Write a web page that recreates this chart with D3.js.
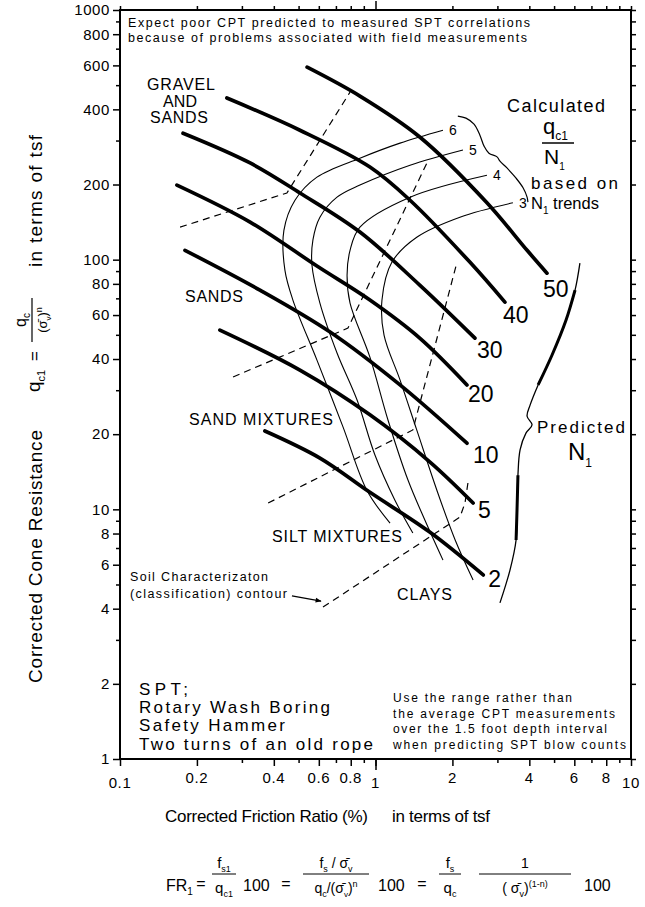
<!DOCTYPE html>
<html><head><meta charset="utf-8">
<script src="https://cdn.jsdelivr.net/npm/d3@7"></script>
<style>
body{margin:0;background:#fff}
svg{display:block}
text{font-family:"Liberation Sans",Arial,Helvetica,sans-serif;fill:#000}
</style>
</head><body>
<svg id="c" width="645" height="907"></svg>
<script>
// ---------------- DATA ----------------
const xTickValues = [0.1,0.2,0.4,0.6,0.8,1,2,4,6,8,10];
const xTickLabels = ["0.1","0.2","0.4","0.6","0.8","1","2","4","6","8","10"];
const yTickValues = [1,2,4,6,8,10,20,40,60,80,100,200,400,600,800,1000];
const yTickLabels = ["1","2","4","6","8","10","20","40","60","80","100","200","400","600","800","1000"];

// Predicted N1 contours  [friction ratio %, qc1 tsf]
const n1Levels = ["50","40","30","20","10","5","2"];
const n1_50 = [[0.54,590],[0.869,452],[1.49,310],[2.73,169],[3.92,109],[4.69,88.3]];
const n1_40 = [[0.262,444],[0.506,330],[0.951,235],[1.365,173],[2.34,97.8],[3.21,67.6]];
const n1_30 = [[0.1765,321],[0.323,244],[0.506,185],[0.869,129],[1.49,79.1],[2.45,48.5]];
const n1_20 = [[0.167,199],[0.323,141.5],[0.59,94.3],[0.951,68.9],[1.49,48.5],[2.28,31.5]];
const n1_10 = [[0.1796,109],[0.353,75.5],[0.664,51.3],[1.247,31.5],[2.28,18.4]];
const n1_5  = [[0.246,52.2],[0.506,36.1],[0.951,23.9],[1.63,15.5],[2.41,10.6]];
const n1_2  = [[0.369,20.6],[0.606,16.05],[0.951,11.7],[1.63,8.11],[2.64,5.46]];

// Calculated qc1/N1 contours
const ratioLevels = ["6","5","4","3"];
const r6 = [[1.837,330],[1.247,293],[0.869,255],[0.59,214],[0.484,173],[0.438,131],[0.442,90.8],[0.475,68.9],[0.59,39.6],[0.746,21.4],[0.926,11.9],[1.14,8.81]];
const r5 = [[2.2,275],[1.365,239],[0.869,199],[0.707,178],[0.606,148],[0.569,120],[0.564,95.2],[0.606,67.0],[0.707,42.3],[0.847,27.4],[0.995,16.5],[1.19,10.9],[1.40,8.04]];
const r4 = [[2.73,218],[1.365,178],[0.869,135],[0.795,109],[0.774,86.7],[0.795,67.0],[0.951,40.7],[1.119,22.8],[1.34,13.1],[1.56,9.06],[1.837,6.26]];
const r3 = [[3.45,169],[2.14,148],[1.45,123],[1.16,97.8],[1.06,68.9],[1.08,49.9],[1.247,33.0],[1.45,20.8],[1.74,11.9],[2.05,7.54],[2.41,5.21]];

// Soil classification contours (dashed)
const soil1 = [[0.1718,135],[0.45,185],[0.795,469]];
const soil2 = [[0.277,33.9],[0.78,53.2],[1.59,244]];
const soil3 = [[0.38,10.6],[1.40,20.8],[2.08,96.9]];
const soil4 = [[0.623,4.06],[1.63,7.75],[2.14,9.31],[2.24,10.6],[2.30,12.75]];

// braces and arrow (annotation paths, in data units)
const braceRatio = [[2.10,376],[2.26,369],[2.43,349],[2.56,316],[2.66,285],[2.78,267],[2.99,258],[3.07,248],[3.27,233],[3.55,212],[3.78,194],[3.92,178],[3.95,170]];
const braceN1 = [[6.31,96.9],[6.04,75.5],[5.57,57.3],[4.91,41.5],[4.33,31.5],[4.03,26.2],[3.92,23.6],[4.10,21.8],[3.88,20.2],[3.68,17.3],[3.61,13.7],[3.58,9.94],[3.55,7.54],[3.36,5.71],[3.07,4.22]];
const contourArrow = [[0.471,4.50],[0.612,4.29]];

// ---------------- SCALES ----------------
const svg = d3.select("#c");
const FONT = '"Liberation Sans", Arial, Helvetica, sans-serif';
const x = d3.scaleLog().domain([0.1,10]).range([120,631]);
const y = d3.scaleLog().domain([1,1000]).range([759,10]);

const xAll=[]; [0.1,1].forEach(d=>{for(let k=1;k<10;k++) xAll.push(+(d*k).toPrecision(3));}); xAll.push(10);
const yAll=[]; [1,10,100].forEach(d=>{for(let k=1;k<10;k++) yAll.push(d*k);}); yAll.push(1000);
const yMinor = yAll.filter(v=>!yTickValues.includes(v));
const xMinor = xAll.filter(v=>!xTickValues.includes(v));

// ---------------- AXES ----------------
function clean(g){ g.select(".domain").remove(); g.attr("font-family",FONT); g.selectAll("line").attr("stroke","#000").attr("stroke-width",1.5); }

const gL1 = svg.append("g").attr("transform",`translate(${x(0.1)},0)`)
  .call(d3.axisLeft(y).tickValues(yMinor).tickSize(4).tickFormat(""));
clean(gL1);
const gL2 = svg.append("g").attr("transform",`translate(${x(0.1)},0)`)
  .call(d3.axisLeft(y).tickValues(yTickValues).tickSize(7).tickPadding(3).tickFormat((d,i)=>yTickLabels[i]));
clean(gL2);
gL2.attr("font-size",15); gL2.selectAll("text").attr("fill","#000").attr("letter-spacing",0.6);

const gR = svg.append("g").attr("transform",`translate(${x(10)},0)`)
  .call(d3.axisRight(y).tickValues(yAll).tickSize(5).tickFormat(""));
clean(gR);

const gT1 = svg.append("g").attr("transform",`translate(0,${y(1000)})`)
  .call(d3.axisTop(x).tickValues(xAll.filter(v=>v!==1)).tickSize(4).tickFormat(""));
clean(gT1);
const gT2 = svg.append("g").attr("transform",`translate(0,${y(1000)})`)
  .call(d3.axisTop(x).tickValues([1]).tickSize(9).tickFormat(""));
clean(gT2);

const gB1 = svg.append("g").attr("transform",`translate(0,${y(1)})`)
  .call(d3.axisBottom(x).tickValues(xMinor).tickSize(4).tickFormat(""));
clean(gB1);
const gB2 = svg.append("g").attr("transform",`translate(0,${y(1)})`)
  .call(d3.axisBottom(x).tickValues(xTickValues).tickSize(7).tickFormat(""));
clean(gB2);
const gB3 = svg.append("g").attr("transform",`translate(0,${y(1)})`)
  .call(d3.axisBottom(x).tickValues([1]).tickSize(11).tickFormat(""));
clean(gB3);
svg.append("g").selectAll("text").data(xTickValues).join("text")
  .attr("x",d=>x(d)).attr("y",d=>([0.1,1,10].includes(d)?788:783))
  .attr("text-anchor","middle").attr("font-size",15).attr("letter-spacing",0.6)
  .text((d,i)=>xTickLabels[i]);

svg.append("rect").attr("x",x(0.1)).attr("y",y(1000))
  .attr("width",x(10)-x(0.1)).attr("height",y(1)-y(1000))
  .attr("fill","none").attr("stroke","#000").attr("stroke-width",2);

// ---------------- CURVES ----------------
const lineC = d3.line().x(d=>x(d[0])).y(d=>y(d[1])).curve(d3.curveCatmullRom.alpha(0.5));
const lineL = d3.line().x(d=>x(d[0])).y(d=>y(d[1]));

const n1Series = [n1_50,n1_40,n1_30,n1_20,n1_10,n1_5,n1_2];
const ratioSeries = [r6,r5,r4,r3];
const soilSeries = [soil1,soil2,soil3,soil4];

svg.append("g").selectAll("path").data(soilSeries).join("path")
  .attr("d",lineL).attr("fill","none").attr("stroke","#000")
  .attr("stroke-width",1.2).attr("stroke-dasharray","7,5");

svg.append("g").selectAll("path").data(ratioSeries).join("path")
  .attr("d",lineC).attr("fill","none").attr("stroke","#000").attr("stroke-width",1.1);

svg.append("g").selectAll("path").data(n1Series).join("path")
  .attr("d",lineC).attr("fill","none").attr("stroke","#000")
  .attr("stroke-width",3.7).attr("stroke-linecap","round");

svg.append("path").attr("d",lineC(braceRatio)).attr("fill","none").attr("stroke","#000").attr("stroke-width",1.2);
svg.append("path").attr("d",lineC(braceN1)).attr("fill","none").attr("stroke","#000").attr("stroke-width",1.3);
svg.append("path").attr("d",lineC(braceN1.slice(1,5))).attr("fill","none").attr("stroke","#000").attr("stroke-width",3);
svg.append("path").attr("d",lineC(braceN1.slice(10,13))).attr("fill","none").attr("stroke","#000").attr("stroke-width",3);

svg.append("defs").append("marker").attr("id","ah").attr("viewBox","0 0 10 10")
  .attr("refX",9).attr("refY",5).attr("markerWidth",8).attr("markerHeight",6)
  .attr("orient","auto").attr("markerUnits","userSpaceOnUse")
  .append("path").attr("d","M0,1 L10,5 L0,9 Z").attr("fill","#000");
svg.append("path").attr("d",lineL(contourArrow)).attr("stroke","#000").attr("stroke-width",1.2).attr("marker-end","url(#ah)");

// ---------------- LABELS ----------------
function txt(x0,y0,str,size,o={}){
  const t=svg.append("text").attr("x",x0).attr("y",y0).attr("font-size",size).text(str);
  if(o.anchor) t.attr("text-anchor",o.anchor);
  if(o.tl) t.attr("textLength",o.tl).attr("lengthAdjust","spacing");
  return t;
}
function rich(g,x0,y0,parts,size,anchor){
  const t=g.append("text").attr("x",x0).attr("y",y0).attr("font-size",size);
  if(anchor) t.attr("text-anchor",anchor);
  let cur=0;
  parts.forEach(([s,k,f])=>{
    const fs = k ? (f||size*0.62) : size;
    const off = k==="sub"? size*0.28 : k==="sup"? -size*0.42 : 0;
    t.append("tspan").attr("dy",off-cur).attr("font-size",fs).text(s);
    cur=off;
  });
  return t;
}

const n1Off = [[-4,24],[-2,21],[2,20],[1,17],[6,20],[5,15],[5,12]];
n1Series.forEach((s,i)=>{
  const e=s[s.length-1];
  txt(x(e[0])+n1Off[i][0], y(e[1])+n1Off[i][1], n1Levels[i], 23);
});
ratioSeries.forEach((s,i)=>{
  const e=s[0];
  txt(x(e[0])+6, y(e[1])+5, ratioLevels[i], 14);
});

txt(128,27,"Expect poor CPT predicted to measured SPT correlations",12.5,{tl:402});
txt(128,42,"because of problems associated with field measurements",12.5,{tl:399});

txt(181,90,"GRAVEL",16,{anchor:"middle",tl:68});
txt(180,107,"AND",16,{anchor:"middle",tl:34});
txt(179,123,"SANDS",16,{anchor:"middle",tl:58});
txt(185,302,"SANDS",16,{tl:58});
txt(189,425,"SAND MIXTURES",16,{tl:144});
txt(272,542,"SILT MIXTURES",16,{tl:130});
txt(397,600,"CLAYS",16,{tl:55});

txt(130,581,"Soil Characterizaton",12.5,{tl:138});
txt(130,598,"(classification) contour",12.5,{tl:157});

txt(139,695,"SPT;",17,{tl:49});
txt(139,713,"Rotary Wash Boring",17,{tl:191});
txt(139,731,"Safety Hammer",17,{tl:146});
txt(139,750,"Two turns of an old rope",17,{tl:234});

txt(393,702,"Use the range rather than",12,{tl:179});
txt(393,718,"the average CPT measurements",12,{tl:222});
txt(393,733,"over the 1.5 foot depth interval",12,{tl:214});
txt(393,749,"when predicting SPT blow counts",12,{tl:233});

txt(507,112,"Calculated",18,{tl:98});
rich(svg,543,134,[["q"],["c1","sub",12]],22);
svg.append("line").attr("x1",542).attr("x2",574).attr("y1",143).attr("y2",143).attr("stroke","#000").attr("stroke-width",1.5);
rich(svg,544,164,[["N"],["1","sub",10]],21);
txt(531,189,"based on",17,{tl:87});
rich(svg,531,209,[["N"],["1","sub",10],[" trends",null]],16.5);

txt(537,433,"Predicted",17,{tl:88});
rich(svg,568,460,[["N"],["1","sub",12]],24);

const gy = svg.append("g").attr("transform","rotate(-90)");
gy.append("text").attr("x",-683).attr("y",42).attr("font-size",19).attr("textLength",253).attr("lengthAdjust","spacing").text("Corrected Cone Resistance");
rich(gy,-392,40,[["q"],["c1","sub",11]],19);
gy.append("text").attr("x",-361).attr("y",40).attr("font-size",17).text("=");
gy.append("line").attr("x1",-342).attr("x2",-298).attr("y1",32).attr("y2",32).attr("stroke","#000").attr("stroke-width",1.2);
rich(gy,-320,26,[["q"],["c","sub",10]],16,"middle");
rich(gy,-320,47,[["(σ̄"],["v","sub",8],[")",null],["n","sup",9]],13,"middle");
gy.append("text").attr("x",-267).attr("y",42).attr("font-size",19).attr("textLength",132).attr("lengthAdjust","spacing").text("in terms of tsf");

txt(165,822,"Corrected Friction Ratio (%)",17,{tl:203});
txt(392,822,"in terms of tsf",17,{tl:98});

const gf = svg.append("g");
function frac(cx,num,den,hw,fs){
  rich(gf,cx,868,num,fs,"middle");
  gf.append("line").attr("x1",cx-hw).attr("x2",cx+hw).attr("y1",874).attr("y2",874).attr("stroke","#000").attr("stroke-width",1);
  rich(gf,cx,893,den,fs,"middle");
}
rich(gf,166,891,[["FR"],["1","sub",10]],16);
gf.append("text").attr("x",201).attr("y",889).attr("font-size",16).attr("text-anchor","middle").text("=");
frac(224,[["f"],["s1","sub",9]],[["q"],["c1","sub",9]],12,15);
gf.append("text").attr("x",243).attr("y",891).attr("font-size",16).text("100");
gf.append("text").attr("x",286).attr("y",889).attr("font-size",16).attr("text-anchor","middle").text("=");
frac(336,[["f"],["s","sub",9],[" / σ̄",null],["v","sub",9]],[["q"],["c","sub",9],["/(σ̄",null],["v","sub",8],[")",null],["n","sup",9]],33,14);
gf.append("text").attr("x",378).attr("y",891).attr("font-size",16).text("100");
gf.append("text").attr("x",422).attr("y",889).attr("font-size",16).attr("text-anchor","middle").text("=");
frac(450,[["f"],["s","sub",9]],[["q"],["c","sub",9]],11,15);
frac(525,[["1"]],[["( σ̄"],["v","sub",9],[")",null],["(1-n)","sup",9]],46,14);
gf.append("text").attr("x",584).attr("y",891).attr("font-size",16).text("100");
</script>
</body></html>
